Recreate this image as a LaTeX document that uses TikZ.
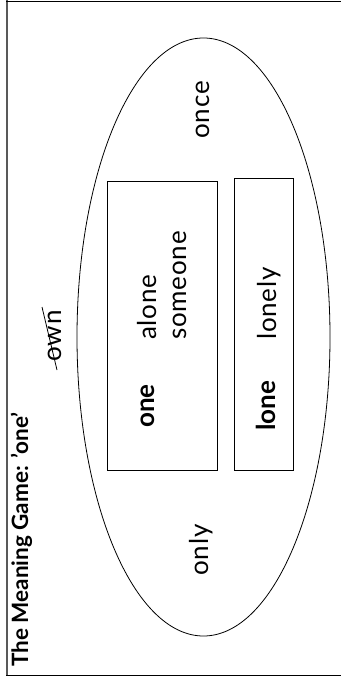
\documentclass[tikz,border=0pt]{standalone}
\usepackage{fontspec}
\setmainfont{Lato}
\begin{document}
\begin{tikzpicture}[x=1pt,y=-1pt,
  word/.style={rotate=90,inner sep=0pt,font=\fontsize{26}{30}\selectfont\addfontfeature{LetterSpace=3}},
  boldword/.style={word,font=\fontsize{26}{30}\selectfont\bfseries},
  frame/.style={line width=1.1pt},
  group/.style={draw,line width=0.9pt}]
\useasboundingbox (0,0) rectangle (340,677);
% frame
\draw[line width=2pt,black!65] (7,0.5) -- (7,676);
\draw[frame] (6,1.5) -- (345,1.5);
\draw[frame] (6,675.5) -- (345,675.5);
% title
\node[rotate=90,anchor=base west,inner sep=0pt,font=\fontsize{22.5}{26}\selectfont\bfseries] (title) at (28,667) {The Meaning Game: ’one’};
% ellipse
\draw[line width=0.8pt] (203.5,337) ellipse [x radius=126.5, y radius=299];
\coordinate (ell) at (203.5,337);
% boxes
\node[group,minimum width=110pt,minimum height=289pt,inner sep=0pt] (boxone) at (162,325.5) {};
\node[group,minimum width=59pt,minimum height=292pt,inner sep=0pt] (boxlone) at (263.5,324) {};
% words
\node[word,anchor=base] (once) at (209,110) {once};
\node[word,anchor=base] (only) at (208,550) {only};
\node[boldword,anchor=base] (one) at (154,406) {one};
\node[boldword,anchor=base] (lone) at (275,406) {lone};
\node[word,anchor=base west] (alone) at (156,340) {alone};
\node[word,anchor=base west] (someone) at (186,340) {someone};
\node[word,anchor=base west] (lonely) at (276,340) {lonely};
\node[word,anchor=base] (own) at (61,336) {own};
\coordinate (s1) at (42,307);
\coordinate (s2) at (57,370);
\draw[line width=0.8pt] (s1) -- (s2);
\end{tikzpicture}
\end{document}
